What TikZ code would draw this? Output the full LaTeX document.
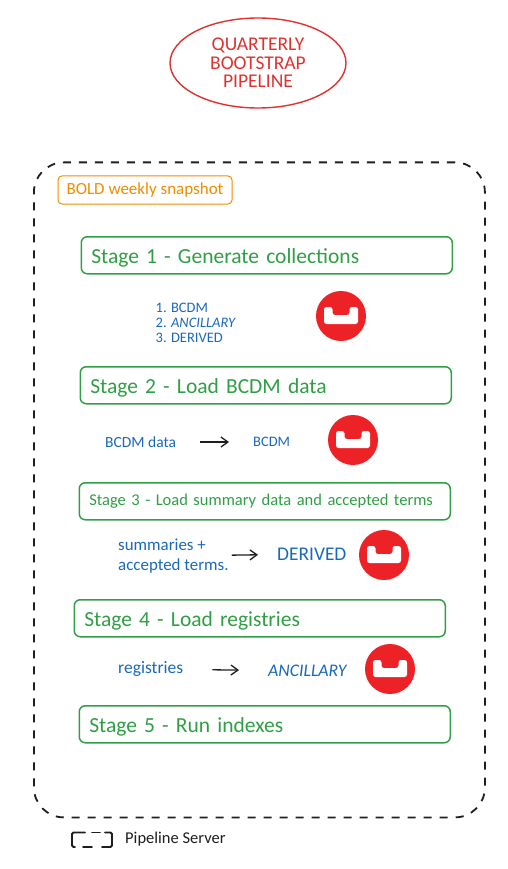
\documentclass[tikz,border=0pt]{standalone}
\usepackage{fontspec}
\usepackage{xcolor}
\usepackage{tikz}
\usetikzlibrary{shapes.geometric,arrows.meta}
\setmainfont{Carlito}
\definecolor{redline}{HTML}{E03131}
\definecolor{orangeline}{HTML}{F08C00}
\definecolor{greenline}{HTML}{2F9E44}
\definecolor{bluetext}{HTML}{1A68BC}
\definecolor{logored}{HTML}{ED2226}
\definecolor{inkline}{HTML}{1E1E1E}
\tikzset{
  stagebox/.style={draw=greenline, line width=1.5pt, rounded corners=6pt, text=greenline, font=\fontsize{21.5}{24}\selectfont, text width=351pt, inner xsep=10pt, inner ysep=0pt, minimum height=37pt, text height=19pt, text depth=3pt, align=left, anchor=north west},
  bluelab/.style={text=bluetext, font=\fontsize{15.5}{20}\selectfont, inner sep=0pt},
  flow/.style={draw=inkline, line width=1.3pt, -{Straight Barb[length=7pt,width=10pt]}},
  logodisc/.style={circle, fill=logored, minimum size=50pt, inner sep=0pt},
  legendline/.style={draw=inkline, line width=1.8pt, line cap=round, rounded corners=1.5pt},
  pics/cbmark/.style={code={
    \fill[white, rounded corners=2.5pt] (-17,-9) -- (-8.5,-9) -- (-8.5,-1) -- (8.5,-1) -- (8.5,-9) -- (17,-9) -- (17,8) -- (-17,8) -- cycle;
  }}
}

\begin{document}
\begin{tikzpicture}[x=1pt,y=-1pt]
  \useasboundingbox (0,0) rectangle (508,869);

  % title
  \node[ellipse, draw=redline, line width=1.4pt, minimum width=176pt, minimum height=90pt, inner sep=0pt, text=redline, font=\fontsize{19.5}{18.5}\selectfont, align=center] (title) at (258,63) {QUARTERLY\\BOOTSTRAP\\PIPELINE};

  % server outline
  \node[draw=inkline, line width=1.8pt, dash pattern=on 8pt off 8pt, rounded corners=30pt, minimum width=451pt, minimum height=655pt, anchor=north west] (server) at (33,161.5) {};
  \node[draw=orangeline, line width=1pt, rounded corners=4pt, text=orangeline, font=\fontsize{17}{19}\selectfont, minimum width=174pt, minimum height=28pt, inner sep=0pt] (snapshot) at (145,190) {BOLD weekly snapshot};

  % stages
  \node[stagebox] (stageA) at (80.5,236) {Stage 1 - Generate collections};
  \node[stagebox] (stageB) at (79.5,366) {Stage 2 - Load BCDM data};
  \node[stagebox, font=\fontsize{16.5}{20}\selectfont, text height=11pt] (stageC) at (78.5,482) {Stage 3 - Load summary data and accepted terms};
  \node[stagebox] (stageD) at (73.5,599) {Stage 4 - Load registries};
  \node[stagebox] (stageE) at (78.5,705) {Stage 5 - Run indexes};

  % collections
  \node[bluelab, font=\fontsize{14.5}{15}\selectfont, align=left, anchor=west] (collist) at (155.5,322.5) {1. BCDM\\2. \textit{ANCILLARY}\\3. DERIVED};
  \node[logodisc] (logoA) at (341,316) {};
  \pic at (logoA) {cbmark};

  % loads
  \node[bluelab, anchor=west] (bcdmdata) at (105,442) {BCDM data};
  \node[bluelab, font=\fontsize{14.5}{18}\selectfont, anchor=west] (bcdmcol) at (253,442) {BCDM};
  \node[logodisc] (logoB) at (353,440) {};
  \pic at (logoB) {cbmark};
  \draw[flow, shorten <=24pt, shorten >=24pt] (bcdmdata) -- (bcdmcol);

  \node[bluelab, font=\fontsize{16.9}{20}\selectfont, align=left, anchor=west] (summaries) at (118,556) {summaries +\\accepted terms.};
  \node[bluelab, font=\fontsize{19.4}{20}\selectfont, anchor=west] (derivedcol) at (277,554) {DERIVED};
  \node[logodisc] (logoC) at (384,555) {};
  \pic at (logoC) {cbmark};
  \draw[flow, shorten <=3pt, shorten >=19pt] (summaries) -- (derivedcol);

  \node[bluelab, font=\fontsize{17.5}{20}\selectfont, anchor=west] (registries) at (118,669) {registries};
  \node[bluelab, font=\fontsize{17.7}{20}\selectfont, anchor=west] (ancillarycol) at (268,671) {\textit{ANCILLARY}};
  \node[logodisc] (logoD) at (390,669) {};
  \pic at (logoD) {cbmark};
  \draw[flow, shorten <=29pt, shorten >=29pt] (registries) -- (ancillarycol);

  % legend
  \draw[legendline] (85,832.5) -- (72,832.5) -- (72,847) -- (75,847);
  \draw[legendline] (83,847) -- (92,847);
  \draw[legendline] (92,832.5) -- (100,832.5);
  \draw[legendline] (105,832.5) -- (112,832.5) -- (112,847) -- (102,847);
  \node[anchor=west, inner sep=0pt, text=inkline, font=\fontsize{16.5}{18}\selectfont] (legendlab) at (125,839) {Pipeline Server};
\end{tikzpicture}
\end{document}
